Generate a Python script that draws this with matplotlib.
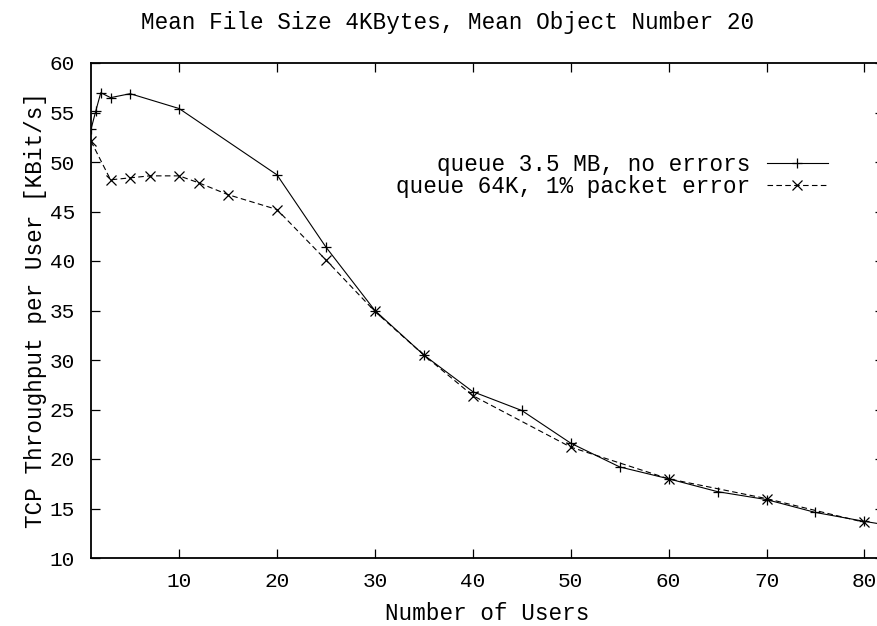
import matplotlib
matplotlib.use("Agg")
import matplotlib.pyplot as plt

# throughput per user vs number of users
users_noerr = [1, 1.5, 2, 3, 5, 10, 20, 25, 30, 35, 40, 45, 50, 55, 60, 65, 70, 75, 80, 85]
tput_noerr = [53.3, 55.2, 57.0, 56.5, 56.9, 55.4, 48.7, 41.4, 35.0, 30.5, 26.8, 24.9, 21.6,
              19.2, 18.0, 16.7, 15.9, 14.6, 13.7, 12.9]

users_err = [1, 3, 5, 7, 10, 12, 15, 20, 25, 30, 35, 40, 50, 60, 70, 80]
tput_err = [52.1, 48.2, 48.4, 48.6, 48.6, 47.9, 46.7, 45.2, 40.1, 34.9, 30.5, 26.4, 21.2,
            18.0, 16.0, 13.6]

label_noerr = "queue 3.5 MB, no errors"
label_err = "queue 64K, 1% packet error"
title = "Mean File Size 4KBytes, Mean Object Number 20"
xlabel = "Number of Users"
ylabel = "TCP Throughput per User [KBit/s]"
xticks = [10, 20, 30, 40, 50, 60, 70, 80]
yticks = [10, 15, 20, 25, 30, 35, 40, 45, 50, 55, 60]

plt.rcParams["font.family"] = ["Liberation Mono", "DejaVu Sans Mono"]
FS = 16.3
TFS = 15.2

fig = plt.figure(figsize=(8.77, 6.26), dpi=100)
ax = fig.add_axes([91 / 877, 68 / 626, 793 / 877, 495 / 626])

ax.plot(users_noerr, tput_noerr, color="black", lw=0.8, marker="+", ms=7, mew=0.9,
        label=label_noerr)
ln, = ax.plot(users_err, tput_err, color="black", lw=0.8, marker="x", ms=6.5, mew=0.9,
              label=label_err)
ln.set_dashes((5, 3))

ax.set_xlim(1, 82)
ax.set_ylim(10, 60)
ax.set_xticks(xticks)
ax.set_yticks(yticks)
ax.tick_params(axis="both", direction="in", length=6.5, width=0.9, labelsize=TFS,
               top=True, right=True)
ax.tick_params(axis="y", pad=11.5)
ax.tick_params(axis="x", pad=10)
for side in ["left", "bottom", "top"]:
    ax.spines[side].set_linewidth(1.3)
ax.spines["right"].set_visible(False)

ax.set_xlabel(xlabel, fontsize=FS, labelpad=8)
ax.set_ylabel(ylabel, fontsize=FS, labelpad=2)
fig.text(448 / 877, 1 - 23 / 626, title, fontsize=FS, ha="center", va="center")

ax.legend(loc="upper right", bbox_to_anchor=(828 / 877, 1 - 153 / 626),
          bbox_transform=fig.transFigure, frameon=False, markerfirst=False,
          fontsize=FS, handlelength=2.7, handletextpad=0.75, labelspacing=-0.05,
          borderpad=0, borderaxespad=0)

fig.savefig("out.png", dpi=100)
